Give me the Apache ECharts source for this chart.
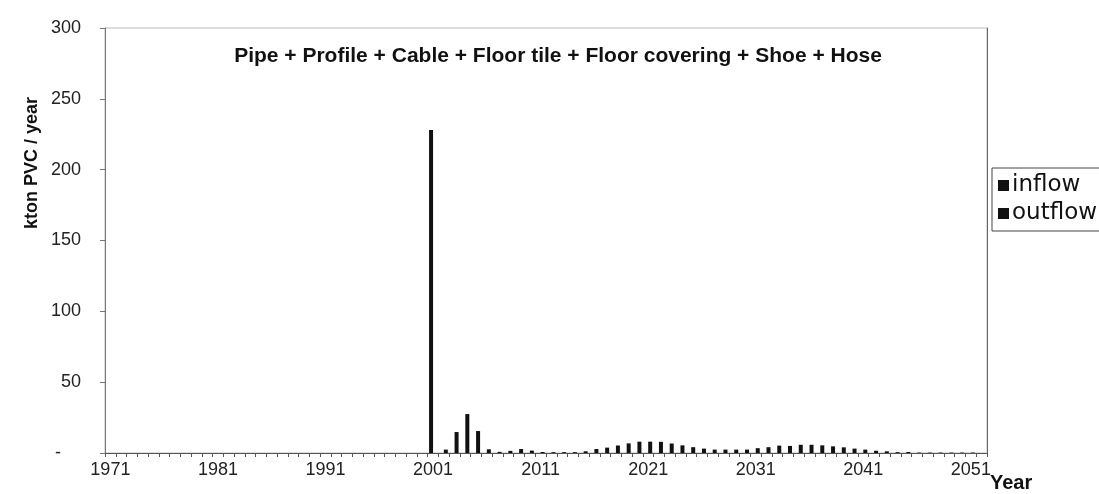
<!DOCTYPE html>
<html>
<head>
<meta charset="utf-8">
<script src="https://cdn.jsdelivr.net/npm/echarts@6/dist/echarts.min.js"></script>
<style>
  html, body { margin: 0; padding: 0; background: #fff; }
  #chart { width: 1099px; height: 494px; }
</style>
</head>
<body>
<div id="chart"></div>
<script>
// years on the category axis, 1971 .. 2052
const years = [];
for (let y = 1971; y <= 2052; y++) years.push(String(y));

const yTicks = [0, 50, 100, 150, 200, 250, 300];

// kton PVC / year, one row per decade
const inflow = [
  0, 0, 0, 0, 0, 0, 0, 0, 0, 0,           // 1971-1980
  0, 0, 0, 0, 0, 0, 0, 0, 0, 0,           // 1981-1990
  0, 0, 0, 0, 0, 0, 0, 0, 0, 0,           // 1991-2000
  228, 0, 0, 0, 0, 0, 0, 0, 0, 0,         // 2001-2010
  0, 0, 0, 0, 0, 0, 0, 0, 0, 0,           // 2011-2020
  0, 0, 0, 0, 0, 0, 0, 0, 0, 0,           // 2021-2030
  0, 0, 0, 0, 0, 0, 0, 0, 0, 0,           // 2031-2040
  0, 0, 0, 0, 0, 0, 0, 0, 0, 0,           // 2041-2050
  0, 0                                    // 2051-2052
];

const outflow = [
  0, 0, 0, 0, 0, 0, 0, 0, 0, 0,
  0, 0, 0, 0, 0, 0, 0, 0, 0, 0,
  0, 0, 0, 0, 0, 0, 0, 0, 0, 0,
  0, 2.4, 14.8, 27.5, 15.5, 2.6, 0.8, 1.5, 2.8, 1.7,
  0.7, 0.6, 0.6, 0.6, 1.2, 2.8, 3.8, 5.3, 6.8, 8.0,
  8.0, 7.9, 6.7, 5.4, 4.1, 3.1, 2.4, 2.4, 2.4, 2.4,
  3.4, 4.1, 5.2, 5.0, 5.8, 5.8, 5.4, 4.7, 4.0, 3.1,
  2.4, 1.6, 1.2, 0.6, 0.7, 0.3, 0.3, 0.3, 0.3, 0.3,
  0.3, 0
];

const chart = echarts.init(document.getElementById('chart'));

const option = {
  animation: false,
  textStyle: { fontFamily: 'Liberation Sans, Arial, sans-serif', color: '#222' },
  title: {
    text: 'Pipe + Profile + Cable + Floor tile + Floor covering + Shoe + Hose',
    left: 553,
    top: 41,
    textAlign: 'center',
    textStyle: { fontSize: 21, fontWeight: 'bold', color: '#111' }
  },
  legend: {
    orient: 'vertical',
    left: 992,
    top: 168,
    padding: [6, 8, 6, 6],
    itemGap: 5,
    itemWidth: 11,
    itemHeight: 11,
    icon: 'rect',
    borderColor: '#444',
    borderWidth: 1,
    data: ['inflow', 'outflow'],
    textStyle: { fontSize: 23, fontFamily: 'DejaVu Sans', color: '#111', padding: [0, 0, 0, -2] }
  },
  grid: {
    left: 105,
    right: 112,
    top: 28,
    bottom: 41,
    show: true,
    borderColor: '#bbb',
    borderWidth: 1
  },
  xAxis: {
    type: 'category',
    data: years,
    boundaryGap: true,
    axisLine: { lineStyle: { color: '#555', width: 1 } },
    axisTick: { show: true, interval: 0, length: 4, lineStyle: { color: '#555' } },
    axisLabel: { interval: 9, fontSize: 18, color: '#222', margin: 8 }
  },
  yAxis: [
    {
      type: 'value',
      min: yTicks[0],
      max: yTicks[yTicks.length - 1],
      interval: 50,
      splitLine: { show: false },
      axisLine: { show: true, lineStyle: { color: '#777' } },
      axisTick: { show: true, length: 5, lineStyle: { color: '#777' } },
      axisLabel: {
        fontSize: 18,
        color: '#222',
        margin: 24,
        formatter: v => (v === 0 ? '-    ' : String(v))
      }
    },
    {
      type: 'value',
      position: 'right',
      min: yTicks[0],
      max: yTicks[yTicks.length - 1],
      interval: 50,
      splitLine: { show: false },
      axisLine: { show: true, lineStyle: { color: '#666' } },
      axisTick: { show: false },
      axisLabel: { show: false }
    }
  ],
  series: [
    {
      name: 'inflow',
      type: 'bar',
      data: inflow,
      barWidth: 4,
      barGap: '0%',
      itemStyle: { color: '#111' }
    },
    {
      name: 'outflow',
      type: 'bar',
      data: outflow,
      barWidth: 4,
      itemStyle: { color: '#111' }
    }
  ],
  graphic: [
    {
      type: 'text',
      x: 32,
      y: 163,
      rotation: Math.PI / 2,
      style: {
        text: 'kton PVC / year',
        fontSize: 18,
        fontWeight: 'bold',
        fontFamily: 'Liberation Sans, Arial, sans-serif',
        fill: '#111',
        align: 'center',
        verticalAlign: 'middle'
      }
    },
    {
      type: 'text',
      x: 990,
      y: 483,
      style: {
        text: 'Year',
        fontSize: 20,
        fontWeight: 'bold',
        fontFamily: 'Liberation Sans, Arial, sans-serif',
        fill: '#111',
        align: 'left',
        verticalAlign: 'middle'
      }
    }
  ]
};

chart.setOption(option);
</script>
</body>
</html>
